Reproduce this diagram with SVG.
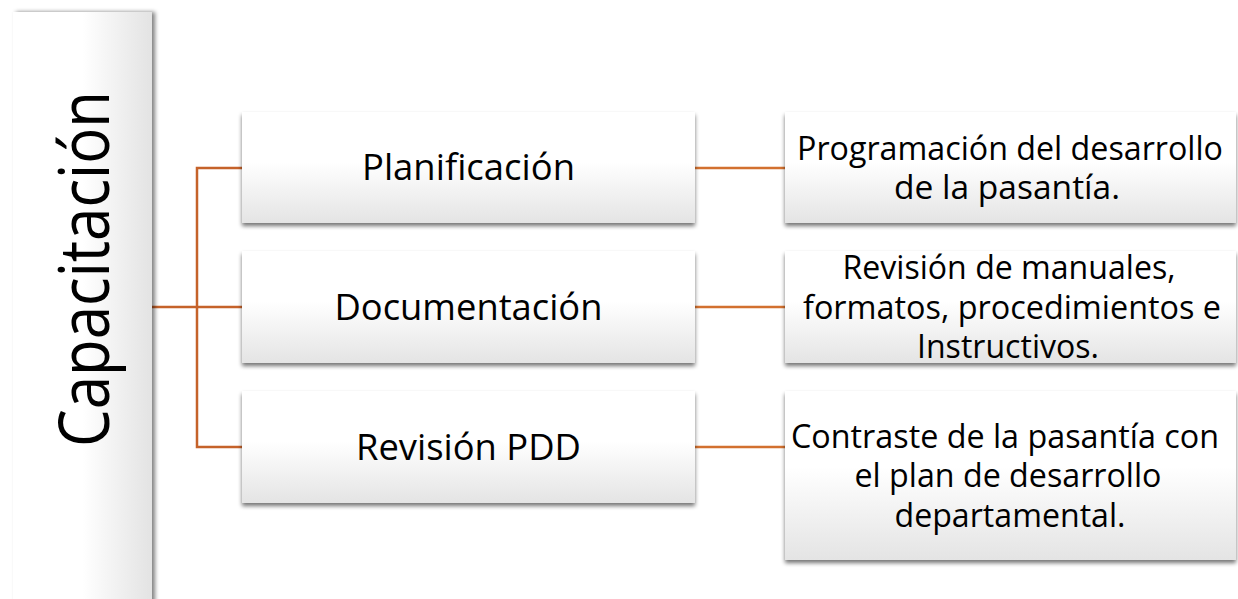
<svg xmlns="http://www.w3.org/2000/svg" width="1238" height="599" viewBox="0 0 1238 599">
  <defs>
    <linearGradient id="gv" x1="0" y1="0" x2="0" y2="1">
      <stop offset="0" stop-color="#ffffff"/>
      <stop offset="0.45" stop-color="#ffffff"/>
      <stop offset="1" stop-color="#e4e4e4"/>
    </linearGradient>
    <linearGradient id="gh" x1="0" y1="0" x2="1" y2="0">
      <stop offset="0" stop-color="#ffffff"/>
      <stop offset="0.5" stop-color="#ffffff"/>
      <stop offset="1" stop-color="#e3e3e3"/>
    </linearGradient>
    <filter id="sh" x="-10%" y="-10%" width="120%" height="130%">
      <feGaussianBlur in="SourceAlpha" stdDeviation="2.2"/>
      <feOffset dx="0" dy="3" result="b"/>
      <feComponentTransfer><feFuncA type="linear" slope="0.55"/></feComponentTransfer>
      <feMerge><feMergeNode/><feMergeNode in="SourceGraphic"/></feMerge>
    </filter>
    <filter id="shl" x="-20%" y="-10%" width="140%" height="120%">
      <feGaussianBlur in="SourceAlpha" stdDeviation="2.2"/>
      <feOffset dx="2.5" dy="0" result="b"/>
      <feComponentTransfer><feFuncA type="linear" slope="0.5"/></feComponentTransfer>
      <feMerge><feMergeNode/><feMergeNode in="SourceGraphic"/></feMerge>
    </filter>
  </defs>
  <style>
    .box { fill: url(#gv); filter: url(#sh); }
    .lbl { font-family: "Open Sans", "Noto Sans", "Liberation Sans", sans-serif; fill: #000000; text-anchor: middle; }
    .mid { font-size: 37px; }
    .det { font-size: 32px; }
    .con { fill: none; stroke: #c5622a; stroke-width: 2.5; }
    .con2 { fill: none; stroke: #d2702f; stroke-width: 2.5; }
  </style>
  <rect width="1238" height="599" fill="#ffffff"/>

  <g id="connectors">
    <path class="con" d="M152,307 H242"/>
    <path class="con" d="M242,168 H197 V447 H242"/>
    <path class="con2" d="M695,168 H785"/>
    <path class="con2" d="M695,307 H785"/>
    <path class="con2" d="M695,447 H785"/>
  </g>

  <g id="capacitacion">
    <rect x="13" y="12" width="139" height="600" fill="url(#gh)" filter="url(#shl)"/>
    <text class="lbl" font-size="69" transform="translate(109,269) rotate(-90)" x="0" y="0" textLength="356" lengthAdjust="spacingAndGlyphs">Capacitación</text>
  </g>

  <g id="planificacion">
    <rect class="box" x="242" y="112" width="453" height="111"/>
    <text class="lbl mid" x="468.5" y="180" textLength="213" lengthAdjust="spacingAndGlyphs">Planificación</text>
  </g>
  <g id="documentacion">
    <rect class="box" x="242" y="251" width="453" height="112"/>
    <text class="lbl mid" x="468.5" y="320" textLength="268" lengthAdjust="spacingAndGlyphs">Documentación</text>
  </g>
  <g id="revision-pdd">
    <rect class="box" x="242" y="391" width="453" height="112"/>
    <text class="lbl mid" x="468.5" y="460" textLength="225" lengthAdjust="spacingAndGlyphs">Revisión PDD</text>
  </g>

  <g id="programacion">
    <rect class="box" x="785" y="112" width="451" height="111"/>
    <text class="lbl det" x="1010" y="159.5" textLength="426" lengthAdjust="spacingAndGlyphs">Programación del desarrollo</text>
    <text class="lbl det" x="1007" y="199" textLength="226" lengthAdjust="spacingAndGlyphs">de la pasantía.</text>
  </g>
  <g id="revision-manuales">
    <rect class="box" x="785" y="251" width="451" height="112"/>
    <text class="lbl det" x="1009" y="279" textLength="333" lengthAdjust="spacingAndGlyphs">Revisión de manuales,</text>
    <text class="lbl det" x="1012" y="318.5" textLength="418" lengthAdjust="spacingAndGlyphs">formatos, procedimientos e</text>
    <text class="lbl det" x="1008" y="358" textLength="182" lengthAdjust="spacingAndGlyphs">Instructivos.</text>
  </g>
  <g id="contraste">
    <rect class="box" x="785" y="391" width="451" height="169"/>
    <text class="lbl det" x="1005" y="447.5" textLength="428" lengthAdjust="spacingAndGlyphs">Contraste de la pasantía con</text>
    <text class="lbl det" x="1008" y="487" textLength="307" lengthAdjust="spacingAndGlyphs">el plan de desarrollo</text>
    <text class="lbl det" x="1010" y="526.5" textLength="231" lengthAdjust="spacingAndGlyphs">departamental.</text>
  </g>
</svg>
